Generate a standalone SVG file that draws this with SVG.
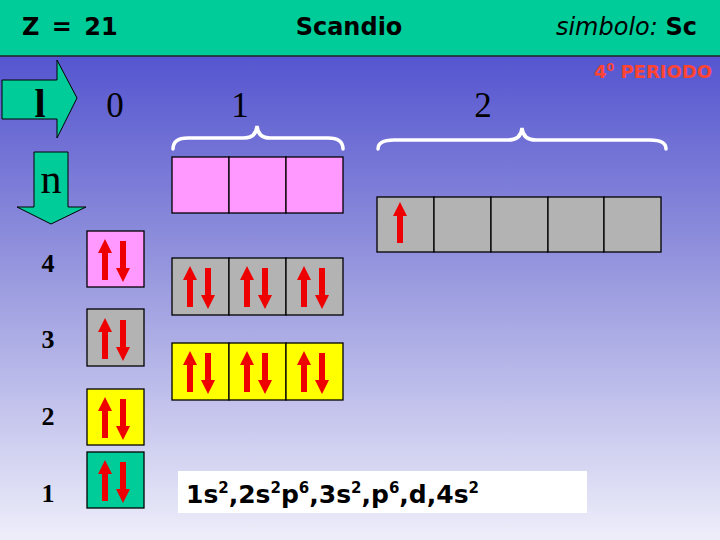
<svg xmlns="http://www.w3.org/2000/svg" xmlns:xlink="http://www.w3.org/1999/xlink" width="720" height="540" viewBox="0 0 720 540">
<defs>
<linearGradient id="bg" x1="0" y1="0" x2="0" y2="1">
<stop offset="0" stop-color="#4444CC"/>
<stop offset="0.45" stop-color="#8E8EDC"/>
<stop offset="1" stop-color="#EEEEFA"/>
</linearGradient>
<path id="up" d="M0,0 L7,14 L3,14 L3,41 L-3,41 L-3,14 L-7,14 Z" fill="#EE0000"/>
<path id="dn" d="M0,0 L7,-14 L3,-14 L3,-41 L-3,-41 L-3,-14 L-7,-14 Z" fill="#EE0000"/>
<g id="pair">
<use xlink:href="#up" x="18" y="8"/>
<use xlink:href="#dn" x="36" y="51"/>
</g>
</defs>
<style>
.box{stroke:#000;stroke-width:1.3}
.pink{fill:#FF99FF}.gray{fill:#B3B3B3}.yel{fill:#FFFF00}.grn{fill:#00CC99}
.hdr{font-family:"DejaVu Sans","Liberation Sans",sans-serif;font-weight:bold;fill:#000}
.ser{font-family:"Liberation Serif","DejaVu Serif",serif;fill:#000}
.brace{fill:none;stroke:#fff;stroke-width:3.5;stroke-linecap:round}
</style>
<rect x="0" y="0" width="720" height="540" fill="url(#bg)"/>
<g id="header">
<rect x="0" y="0" width="720" height="56" fill="#00CC99"/>
<line x1="0" y1="56" x2="720" y2="56" stroke="#222" stroke-width="1.5"/>
<text class="hdr" x="22" y="35" font-size="24" word-spacing="4">Z = 21</text>
<text class="hdr" x="349" y="35" font-size="24" text-anchor="middle">Scandio</text>
<text class="hdr" x="697" y="35" font-size="24" text-anchor="end"><tspan font-style="italic" font-weight="normal">simbolo: </tspan>Sc</text>
<text x="712" y="78" font-family="'DejaVu Sans',sans-serif" font-weight="bold" font-size="18" fill="#FF4433" text-anchor="end">4<tspan font-size="11" dy="-7">0</tspan><tspan dy="7"> PERIODO</tspan></text>
</g>
<g id="arrow-l">
<path d="M2,80 L57,80 L57,60 L77,98 L57,138 L57,119 L2,119 Z" fill="#00CC99" stroke="#000" stroke-width="1"/>
<text class="ser" x="40" y="117" font-size="40" text-anchor="middle" font-weight="bold">l</text>
</g>
<g id="arrow-n">
<path d="M34,152 L68,152 L68,207 L86,207 L51,224 L17,207 L34,207 Z" fill="#00CC99" stroke="#000" stroke-width="1"/>
<text class="ser" x="51" y="193" font-size="42" text-anchor="middle">n</text>
</g>
<g id="labels">
<text class="ser" x="115" y="117" font-size="35" text-anchor="middle">0</text>
<text class="ser" x="240" y="117" font-size="35" text-anchor="middle">1</text>
<text class="ser" x="483" y="117" font-size="35" text-anchor="middle">2</text>
<text class="ser" x="48" y="272" font-size="26" font-weight="bold" text-anchor="middle">4</text>
<text class="ser" x="48" y="348" font-size="26" font-weight="bold" text-anchor="middle">3</text>
<text class="ser" x="48" y="425" font-size="26" font-weight="bold" text-anchor="middle">2</text>
<text class="ser" x="48" y="502" font-size="26" font-weight="bold" text-anchor="middle">1</text>
</g>
<g id="braces">
<path class="brace" d="M173,149 Q173,138 188,138 L244,138 Q256,138 257,126 Q258,138 270,138 L328,138 Q343,138 343,149"/>
<path class="brace" d="M378,149 Q378,140 394,140 L508,140 Q521,140 522,128 Q523,140 536,140 L650,140 Q666,140 666,149"/>
</g>
<g id="orb-1p">
<rect class="box pink" x="172" y="157" width="57" height="56"/>
<rect class="box pink" x="229" y="157" width="57" height="56"/>
<rect class="box pink" x="286" y="157" width="57" height="56"/>
</g>
<g id="orb-2d">
<rect class="box gray" x="377" y="197" width="57" height="55"/>
<rect class="box gray" x="434" y="197" width="57" height="55"/>
<rect class="box gray" x="491" y="197" width="57" height="55"/>
<rect class="box gray" x="548" y="197" width="56" height="55"/>
<rect class="box gray" x="604" y="197" width="57" height="55"/>
<use xlink:href="#up" x="400" y="202"/>
</g>
<g id="orb-4s">
<rect class="box pink" x="87" y="231" width="57" height="56"/>
<use xlink:href="#pair" x="87" y="231"/>
</g>
<g id="orb-3s">
<rect class="box gray" x="87" y="309" width="57" height="57"/>
<use xlink:href="#pair" x="87" y="310"/>
</g>
<g id="orb-2s">
<rect class="box yel" x="87" y="389" width="57" height="56"/>
<use xlink:href="#pair" x="87" y="389"/>
</g>
<g id="orb-1s">
<rect class="box grn" x="87" y="452" width="57" height="56"/>
<use xlink:href="#pair" x="87" y="452"/>
</g>
<g id="orb-3p">
<rect class="box gray" x="172" y="258" width="57" height="57"/>
<rect class="box gray" x="229" y="258" width="57" height="57"/>
<rect class="box gray" x="286" y="258" width="57" height="57"/>
<use xlink:href="#pair" x="172" y="258"/>
<use xlink:href="#pair" x="229" y="258"/>
<use xlink:href="#pair" x="286" y="258"/>
</g>
<g id="orb-2p">
<rect class="box yel" x="172" y="343" width="57" height="57"/>
<rect class="box yel" x="229" y="343" width="57" height="57"/>
<rect class="box yel" x="286" y="343" width="57" height="57"/>
<use xlink:href="#pair" x="172" y="343"/>
<use xlink:href="#pair" x="229" y="343"/>
<use xlink:href="#pair" x="286" y="343"/>
</g>
<g id="config">
<rect x="178" y="471" width="409" height="42" fill="#FFFFFF"/>
<text class="hdr" x="186" y="503" font-size="25">1s<tspan font-size="15" dy="-10">2</tspan><tspan dy="10">,2s</tspan><tspan font-size="15" dy="-10">2</tspan><tspan dy="10">p</tspan><tspan font-size="15" dy="-10">6</tspan><tspan dy="10">,3s</tspan><tspan font-size="15" dy="-10">2</tspan><tspan dy="10">,p</tspan><tspan font-size="15" dy="-10">6</tspan><tspan dy="10">,d,4s</tspan><tspan font-size="15" dy="-10">2</tspan></text>
</g>
</svg>
